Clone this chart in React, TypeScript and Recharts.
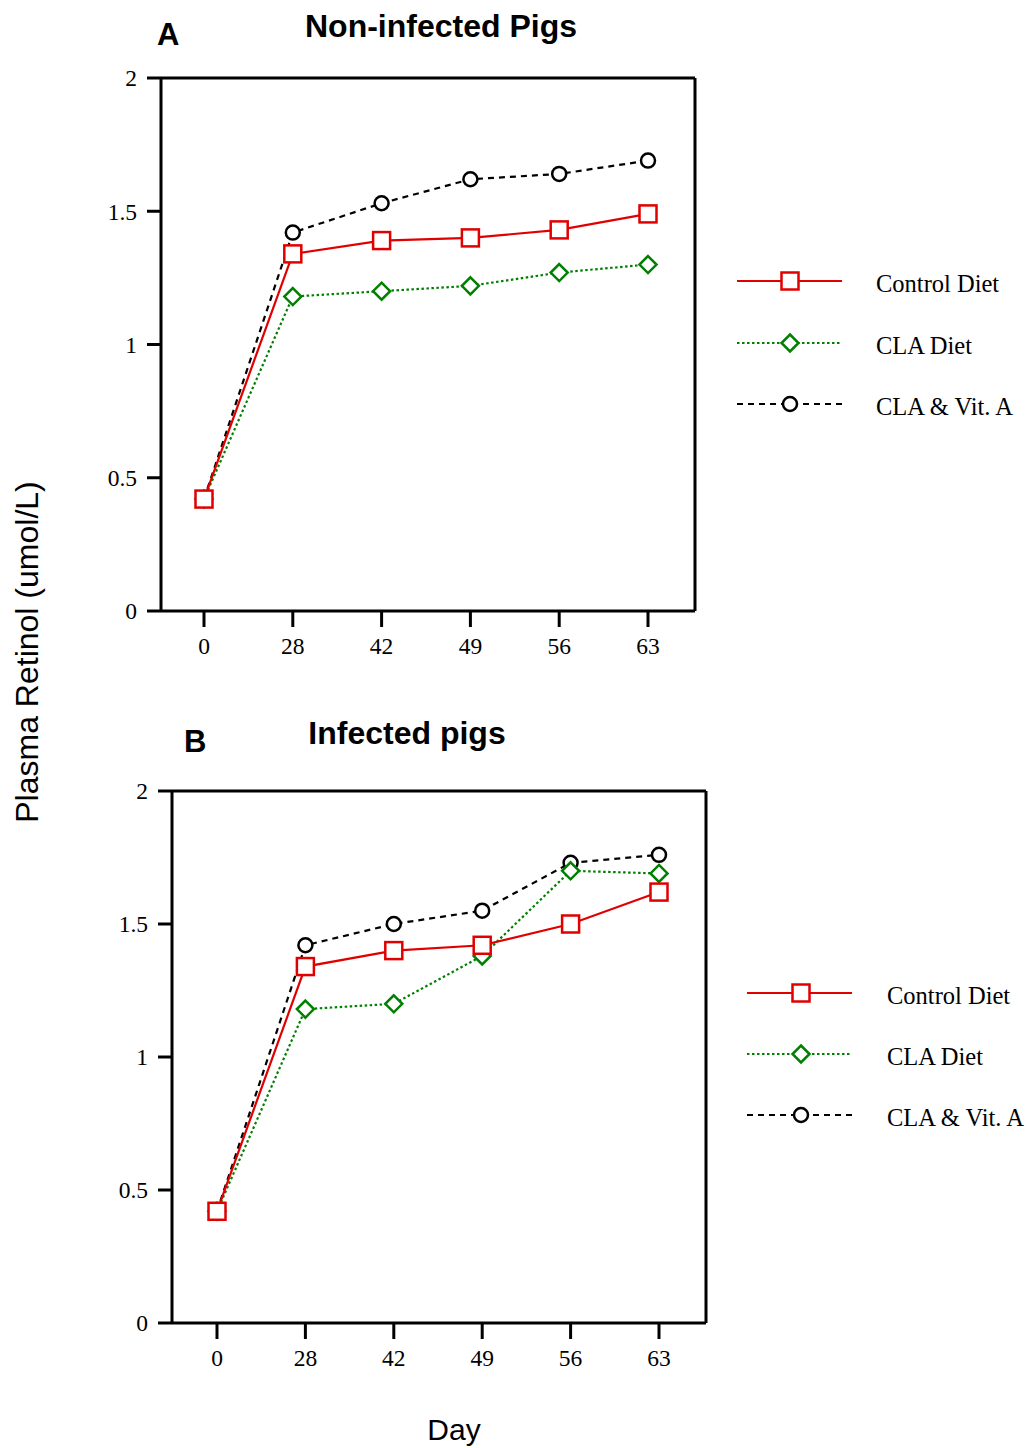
import React from 'react';
import { LineChart, Line, XAxis, YAxis } from 'recharts';

// categories / ticks
const days = ['0', '28', '42', '49', '56', '63'];
const yTicks = [0, 0.5, 1, 1.5, 2];
const seriesNames = ['Control Diet', 'CLA Diet', 'CLA & Vit. A'];

// panel A: non-infected pigs
const controlA = [0.42, 1.34, 1.39, 1.4, 1.43, 1.49];
const claA = [0.42, 1.18, 1.2, 1.22, 1.27, 1.3];
const vitaA = [0.42, 1.42, 1.53, 1.62, 1.64, 1.69];

// panel B: infected pigs
const controlB = [0.42, 1.34, 1.4, 1.42, 1.5, 1.62];
const claB = [0.42, 1.18, 1.2, 1.38, 1.7, 1.69];
const vitaB = [0.42, 1.42, 1.5, 1.55, 1.73, 1.76];

const RED = '#e00000';
const GREEN = '#008000';
const BLACK = '#000';
const SERIF = '"Liberation Serif", "Times New Roman", serif';
const SANS = '"Liberation Sans", Arial, sans-serif';

const toRows = (control: number[], cla: number[], vita: number[]) =>
  days.map((d, i) => ({ day: d, control: control[i], cla: cla[i], vita: vita[i] }));

const square = (color: string) => (p: any) => (
  <rect key={`s-${p.index}`} x={p.cx - 8.5} y={p.cy - 8.5} width={17} height={17}
    fill="#fff" stroke={color} strokeWidth={2.5} />
);
const diamond = (color: string) => (p: any) => (
  <path key={`d-${p.index}`} d={`M${p.cx},${p.cy - 8.5}L${p.cx + 8.5},${p.cy}L${p.cx},${p.cy + 8.5}L${p.cx - 8.5},${p.cy}Z`}
    fill="#fff" stroke={color} strokeWidth={2.5} />
);
const circle = (color: string) => (p: any) => (
  <circle key={`c-${p.index}`} cx={p.cx} cy={p.cy} r={7} fill="#fff" stroke={color} strokeWidth={2.5} />
);

// drawing order: black, green, red (red on top)
const series = [
  { key: 'vita', name: seriesNames[2], color: BLACK, dash: '6 5', shape: circle },
  { key: 'cla', name: seriesNames[1], color: GREEN, dash: '2.5 2.5', shape: diamond },
  { key: 'control', name: seriesNames[0], color: RED, dash: undefined, shape: square },
];

type Plot = { left: number; top: number; right: number; bottom: number; padL: number; padR: number };

const axisStyle = { stroke: '#000', strokeWidth: 3 };
const tickFont = { fill: '#000', fontSize: 23.5, fontFamily: SERIF };

function Panel({ data, plot }: { data: any[]; plot: Plot }) {
  const top = 78;
  const chartTop = plot.top - top;
  const plotH = plot.bottom - plot.top;
  const chartH = top + plotH + 70;
  const chartW = plot.right + 20;
  const yW = 60;
  const xH = 50;
  return (
    <div style={{ position: 'absolute', left: 0, top: chartTop }}>
      <LineChart
        width={chartW}
        height={chartH}
        data={data}
        margin={{ top: top - 1, left: plot.left - yW, right: chartW - plot.right - 1, bottom: chartH - top - plotH - xH }}
      >
        <XAxis
          dataKey="day"
          xAxisId="bottom"
          height={xH}
          padding={{ left: plot.padL, right: plot.padR }}
          axisLine={axisStyle}
          tickLine={axisStyle}
          tickSize={16}
          tickMargin={10}
          tick={tickFont}
          interval={0}
        />
        <XAxis
          dataKey="day"
          xAxisId="top"
          orientation="top"
          height={1}
          tick={false}
          tickLine={false}
          axisLine={axisStyle}
        />
        <YAxis
          yAxisId="left"
          width={yW}
          domain={[0, 2]}
          ticks={yTicks}
          interval={0}
          axisLine={axisStyle}
          tickLine={axisStyle}
          tickSize={14}
          tickMargin={10}
          tick={tickFont}
          tickFormatter={(v) => String(v)}
        />
        <YAxis
          yAxisId="right"
          orientation="right"
          width={1}
          domain={[0, 2]}
          tick={false}
          tickLine={false}
          axisLine={axisStyle}
        />
        {series.map((s) => (
          <Line
            key={s.key}
            xAxisId="bottom"
            yAxisId="left"
            type="linear"
            dataKey={s.key}
            name={s.name}
            stroke={s.color}
            strokeWidth={2.2}
            strokeDasharray={s.dash}
            dot={s.shape(s.color)}
            activeDot={false}
            isAnimationActive={false}
          />
        ))}
      </LineChart>
    </div>
  );
}

function LegendBlock({ x1, x2, mx, rows, tx }: { x1: number; x2: number; mx: number; rows: number[]; tx: number }) {
  const legendOrder = [series[2], series[1], series[0]];
  return (
    <g>
      {legendOrder.map((s, i) => (
        <g key={s.key}>
          <line x1={x1} x2={x2} y1={rows[i]} y2={rows[i]} stroke={s.color} strokeWidth={2.2} strokeDasharray={s.dash} />
          {s.shape(s.color)({ cx: mx, cy: rows[i], index: i })}
          <text x={tx} y={rows[i] + 11} fontFamily={SERIF} fontSize={24.5} fill="#000">{s.name}</text>
        </g>
      ))}
    </g>
  );
}

export default function App() {
  const plotA: Plot = { left: 161, top: 78, right: 695, bottom: 611, padL: 43, padR: 47 };
  const plotB: Plot = { left: 172, top: 791, right: 706, bottom: 1323, padL: 45, padR: 47 };
  return (
    <div style={{ position: 'absolute', left: 0, top: 0, width: 1029, height: 1448, background: '#fff' }}>
      <Panel data={toRows(controlA, claA, vitaA)} plot={plotA} />
      <Panel data={toRows(controlB, claB, vitaB)} plot={plotB} />
      <svg width={1029} height={1448} style={{ position: 'absolute', left: 0, top: 0, pointerEvents: 'none' }}>
        <text x={157} y={45} fontFamily={SANS} fontWeight="bold" fontSize={31}>A</text>
        <text x={441} y={37} textAnchor="middle" fontFamily={SANS} fontWeight="bold" fontSize={32}>Non-infected Pigs</text>
        <text x={184} y={752} fontFamily={SANS} fontWeight="bold" fontSize={31}>B</text>
        <text x={407} y={744} textAnchor="middle" fontFamily={SANS} fontWeight="bold" fontSize={32}>Infected pigs</text>
        <text transform="translate(38,652) rotate(-90)" textAnchor="middle" fontFamily={SANS} fontSize={32}>Plasma Retinol (umol/L)</text>
        <text x={454} y={1440} textAnchor="middle" fontFamily={SANS} fontSize={30}>Day</text>
        <LegendBlock x1={737} x2={842} mx={790} rows={[281, 343, 404]} tx={876} />
        <LegendBlock x1={747} x2={852} mx={801} rows={[993, 1054, 1115]} tx={887} />
      </svg>
    </div>
  );
}
